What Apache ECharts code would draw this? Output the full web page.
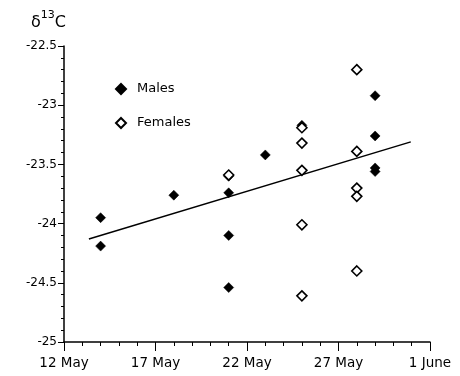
<!DOCTYPE html>
<html><head><meta charset="utf-8">
<script src="https://cdn.jsdelivr.net/npm/echarts@6/dist/echarts.min.js"></script>
<style>html,body{margin:0;padding:0;background:#fff}#c{width:460px;height:376px}</style>
</head><body><div id="c"></div>
<script>
// days since 12 May
var tickLabels = ['12 May', '17 May', '22 May', '27 May', '1 June'];
var maleDay = [2, 2, 6, 9, 9, 9, 9, 11, 13, 17, 17, 17, 17];
var maleD13C = [-23.95, -24.19, -23.76, -23.60, -23.74, -24.10, -24.54, -23.42, -23.17, -22.92, -23.26, -23.53, -23.56];
var femaleDay = [9, 13, 13, 13, 13, 13, 16, 16, 16, 16, 16];
var femaleD13C = [-23.59, -23.19, -23.32, -23.55, -24.01, -24.61, -22.70, -23.39, -23.70, -23.77, -24.40];
var fitDay = [1.36, 18.95];
var fitD13C = [-24.13, -23.31];

function pairs(xs, ys) { return xs.map(function (x, i) { return [x, ys[i]]; }); }

var font = '"DejaVu Sans", "Liberation Sans", Arial, sans-serif';
var chart = echarts.init(document.getElementById('c'));
chart.setOption({
  animation: false,
  backgroundColor: '#fff',
  title: {
    left: 26, top: 5,
    text: '{d|δ}{s|13}{d|C}',
    textStyle: {
      fontWeight: 'normal',
      rich: {
        d: { fontFamily: font, fontSize: 16, fontWeight: 'normal', color: '#000', verticalAlign: 'bottom', lineHeight: 21 },
        s: { fontFamily: font, fontSize: 11, fontWeight: 'normal', color: '#000', verticalAlign: 'top', lineHeight: 21, padding: [0, 0, 9, 0] }
      }
    }
  },
  legend: {
    orient: 'vertical', left: 110, top: 77, itemGap: 20,
    itemWidth: 10, itemHeight: 10,
    textStyle: { fontFamily: font, fontSize: 13, lineHeight: 14, color: '#000', padding: [0, 0, 0, 6] },
    data: ['Males', 'Females']
  },
  grid: { left: 64, right: 30, top: 46, bottom: 34 },
  xAxis: {
    type: 'value', min: 0, max: 20, interval: 5,
    axisLine: { show: true, lineStyle: { color: '#000', width: 1.5 } },
    axisTick: { show: true, inside: false, length: 9, lineStyle: { color: '#000', width: 1 } },
    minorTick: { show: true, splitNumber: 5, length: 4, lineStyle: { color: '#000', width: 1 } },
    splitLine: { show: false },
    axisLabel: {
      fontFamily: font, fontSize: 13.5, color: '#000', margin: 14,
      formatter: function (v) { return tickLabels[Math.round(v / 5)]; }
    }
  },
  yAxis: {
    type: 'value', min: -25, max: -22.5, interval: 0.5,
    axisLine: { show: true, lineStyle: { color: '#000', width: 1.5 } },
    axisTick: { show: true, inside: false, length: 6, lineStyle: { color: '#000', width: 1 } },
    minorTick: { show: true, splitNumber: 5, length: 3, lineStyle: { color: '#000', width: 1 } },
    splitLine: { show: false },
    axisLabel: { fontFamily: font, fontSize: 12, color: '#000', margin: 7 }
  },
  series: [
    {
      name: 'Fit', type: 'line', data: pairs(fitDay, fitD13C),
      showSymbol: false, symbol: 'none',
      lineStyle: { color: '#000', width: 1.5 }, z: 1
    },
    {
      name: 'Males', type: 'scatter', data: pairs(maleDay, maleD13C),
      symbol: 'diamond', symbolSize: 10,
      itemStyle: { color: '#000', borderColor: '#000', borderWidth: 0.5, opacity: 1 }, z: 2
    },
    {
      name: 'Females', type: 'scatter', data: pairs(femaleDay, femaleD13C),
      symbol: 'diamond', symbolSize: 10,
      itemStyle: { color: '#fff', borderColor: '#000', borderWidth: 1.6, opacity: 1 }, z: 3
    }
  ]
});
</script></body></html>
